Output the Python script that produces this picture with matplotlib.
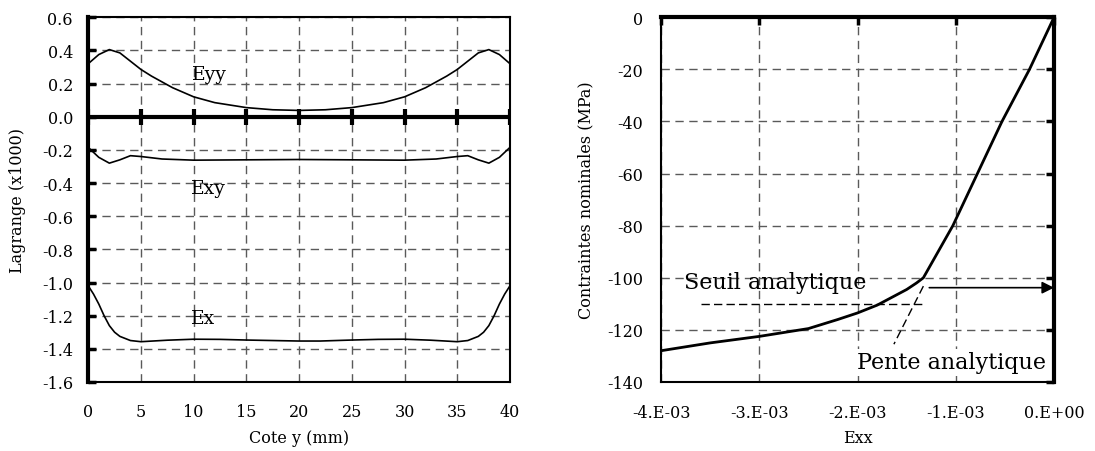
import matplotlib.pyplot as plt

plt.rcParams['font.family'] = 'DejaVu Serif'
plt.rcParams['font.size'] = 11.5
plt.rcParams['axes.unicode_minus'] = False

# --- donnees graphe gauche (deformations de Lagrange x1000) ---
y_eyy = [0, 1, 2, 3, 4, 5, 6, 8, 10, 12, 15, 17.5, 20, 22.5, 25, 28, 30, 32, 34, 35, 36, 37, 38, 39, 40]
eyy = [0.32, 0.375, 0.405, 0.385, 0.335, 0.285, 0.245, 0.175, 0.12, 0.085, 0.055, 0.042, 0.038,
       0.042, 0.055, 0.085, 0.12, 0.175, 0.245, 0.285, 0.335, 0.385, 0.405, 0.375, 0.32]

y_exy = [0, 1, 2, 3, 4, 5, 7, 10, 15, 20, 25, 30, 33, 35, 36, 37, 38, 39, 40]
exy = [-0.185, -0.245, -0.28, -0.26, -0.235, -0.24, -0.255, -0.262, -0.26, -0.258,
       -0.26, -0.262, -0.255, -0.24, -0.235, -0.26, -0.28, -0.245, -0.185]

y_ex = [0, 0.5, 1, 1.5, 2, 2.5, 3, 4, 5, 7.5, 10, 12.5, 15, 20, 22, 25, 27.5, 30, 32.5,
        35, 36, 37, 37.5, 38, 38.5, 39, 39.5, 40]
ex = [-1.02, -1.07, -1.13, -1.2, -1.26, -1.30, -1.325, -1.35, -1.357, -1.348, -1.342, -1.343,
      -1.347, -1.353, -1.353, -1.347, -1.343, -1.342, -1.348, -1.357, -1.35, -1.325, -1.30,
      -1.26, -1.2, -1.13, -1.07, -1.02]

xt_left = [0, 5, 10, 15, 20, 25, 30, 35, 40]
yt_left = [0.6, 0.4, 0.2, 0.0, -0.2, -0.4, -0.6, -0.8, -1.0, -1.2, -1.4, -1.6]

# --- donnees graphe droit (contrainte - deformation) ---
exx = [-4.0e-3, -3.5e-3, -3.0e-3, -2.5e-3, -2.2e-3, -2.0e-3, -1.8e-3, -1.6e-3, -1.5e-3,
       -1.4e-3, -1.33e-3, -1.03e-3, -0.78e-3, -0.53e-3, -0.25e-3, 0.0]
sig = [-128, -125, -122.5, -119.5, -116, -113.5, -110.5, -106.5, -104.5, -102, -100,
       -80, -60, -40, -20, 0]

seuil_x = [-3.59e-3, -1.33e-3]
seuil_y = [-110, -110]
pente_x = [-1.33e-3, -1.63e-3]
pente_y = [-103.2, -125.5]

xt_right = [-4e-3, -3e-3, -2e-3, -1e-3, 0.0]
xt_right_lab = ['-4.E-03', '-3.E-03', '-2.E-03', '-1.E-03', '0.E+00']
yt_right = [0, -20, -40, -60, -80, -100, -120, -140]

grid_kw = dict(color='#5a5a5a', linestyle=(0, (6, 4)), linewidth=1)

fig = plt.figure(figsize=(10.95, 4.52), dpi=100)

# ---------------- gauche ----------------
ax1 = fig.add_axes([0.0806, 0.1527, 0.3851, 0.8069])
ax1.plot(y_eyy, eyy, color='black', lw=1.2)
ax1.plot(y_exy, exy, color='black', lw=1.2)
ax1.plot(y_ex, ex, color='black', lw=1.2)
ax1.axhline(0, color='black', lw=3, zorder=3)
ax1.plot(xt_left, [0] * len(xt_left), ls='', marker='|', ms=11, mew=3, color='black', zorder=3)
ax1.set_xlim(0, 40)
ax1.set_ylim(-1.6, 0.6)
ax1.set_xticks(xt_left)
ax1.set_yticks(yt_left)
ax1.set_yticklabels(['%.1f' % v for v in yt_left])
ax1.grid(True, **grid_kw)
ax1.tick_params(axis='x', length=0, pad=15)
ax1.tick_params(axis='y', direction='in', length=6, width=2.5, pad=11)
for s in ['top', 'bottom', 'right']:
    ax1.spines[s].set_linewidth(1.5)
ax1.spines['left'].set_linewidth(3)
ax1.text(11.5, 0.26, 'Eyy', ha='center', va='center', fontsize=13.5)
ax1.text(11.4, -0.43, 'Exy', ha='center', va='center', fontsize=13.5)
ax1.text(10.9, -1.215, 'Ex', ha='center', va='center', fontsize=13.5)
ax1.set_xlabel('Cote y (mm)')
ax1.set_ylabel('Lagrange (x1000)')
ax1.xaxis.set_label_coords(0.5, -0.151)
ax1.xaxis.label.set_va('center')
ax1.yaxis.set_label_coords(-0.167, 0.5)
ax1.yaxis.label.set_va('center')

# ---------------- droite ----------------
ax2 = fig.add_axes([0.6037, 0.1527, 0.3589, 0.8069])
ax2.plot(exx, sig, color='black', lw=2)
ax2.plot(seuil_x, seuil_y, color='black', lw=1, ls=(0, (6, 3)))
ax2.plot(pente_x, pente_y, color='black', lw=1, ls=(0, (6, 3)))
ax2.annotate('', xy=(0, -103.8), xytext=(-1.27e-3, -103.8),
             arrowprops=dict(arrowstyle='-|>', color='black', lw=1.2, mutation_scale=18,
                             shrinkA=0, shrinkB=0))
ax2.set_xlim(-4e-3, 0)
ax2.set_ylim(-140, 0)
ax2.set_xticks(xt_right)
ax2.set_xticklabels(xt_right_lab)
ax2.set_yticks(yt_right)
ax2.grid(True, **grid_kw)
ax2.tick_params(axis='x', bottom=False, top=True, labelbottom=True, labeltop=False,
                direction='in', length=6, width=2.5, pad=16)
ax2.tick_params(axis='y', left=False, right=True, labelleft=True, labelright=False,
                direction='in', length=6, width=2.5, pad=13)
ax2.spines['top'].set_linewidth(3)
ax2.spines['right'].set_linewidth(3)
ax2.spines['left'].set_linewidth(1.5)
ax2.spines['bottom'].set_linewidth(1.5)
ax2.text(-3.77e-3, -101.5, 'Seuil analytique', ha='left', va='center', fontsize=16)
ax2.text(-2.01e-3, -132.5, 'Pente analytique', ha='left', va='center', fontsize=16,
         zorder=6, bbox=dict(facecolor='white', edgecolor='none', pad=2))
ax2.set_xlabel('Exx')
ax2.set_ylabel('Contraintes nominales (MPa)')
ax2.xaxis.set_label_coords(0.5, -0.151)
ax2.xaxis.label.set_va('center')
ax2.yaxis.set_label_coords(-0.191, 0.5)
ax2.yaxis.label.set_va('center')

fig.savefig('out.png', dpi=100)
